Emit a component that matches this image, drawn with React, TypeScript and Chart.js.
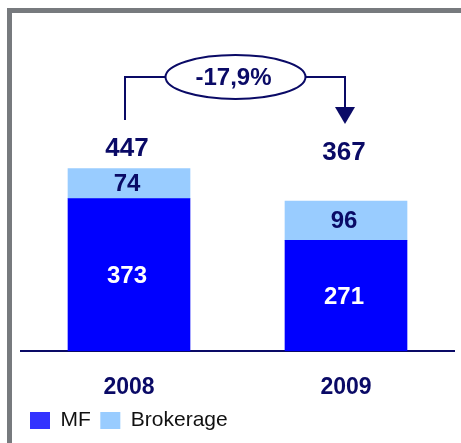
import React, { useEffect, useRef } from "react";
import { Chart, registerables } from "chart.js";

Chart.register(...registerables);

const categories = ["2008", "2009"];
const mfValues = [373, 271];
const brokerageValues = [74, 96];
const totals = [447, 367];
const changeLabel = "-17,9%";

const NAVY = "#0a0a66";
const FONT = "'Liberation Sans', Arial, sans-serif";

const framePlugin = {
  id: "frame",
  beforeDraw(chart: any) {
    const ctx = chart.ctx;
    ctx.save();
    ctx.fillStyle = "#ffffff";
    ctx.fillRect(0, 0, chart.width, chart.height);
    ctx.fillStyle = "#777a7e";
    ctx.fillRect(7, 8, 5, chart.height - 8);
    ctx.fillRect(7, 8, chart.width - 7, 5);
    ctx.restore();
  },
};

const labelPlugin = {
  id: "labels",
  afterDatasetsDraw(chart: any) {
    const ctx = chart.ctx;
    ctx.save();
    ctx.textAlign = "center";
    ctx.textBaseline = "middle";
    const mfMeta = chart.getDatasetMeta(0);
    const brMeta = chart.getDatasetMeta(1);
    ctx.font = `bold 24px ${FONT}`;
    mfMeta.data.forEach((bar: any, i: number) => {
      ctx.fillStyle = "#ffffff";
      ctx.fillText(String(mfValues[i]), bar.x - 2, (bar.y + bar.base) / 2 + 2);
    });
    brMeta.data.forEach((bar: any, i: number) => {
      ctx.fillStyle = NAVY;
      ctx.fillText(String(brokerageValues[i]), bar.x - 2, (bar.y + bar.base) / 2 + 1);
    });
    ctx.font = `bold 26px ${FONT}`;
    ctx.fillStyle = NAVY;
    const xs: number[] = [];
    brMeta.data.forEach((bar: any, i: number) => {
      xs.push(bar.x);
      const y = Math.min(bar.y - 20, 153);
      ctx.fillText(String(totals[i]), bar.x - 2, y);
    });

    // change arrow
    const x0 = xs[0] - 4;
    const x1 = xs[1] - 1;
    const cx = (xs[0] + xs[1]) / 2 - 2;
    const cy = 77;
    const rx = 70;
    const ry = 22;
    ctx.strokeStyle = NAVY;
    ctx.lineWidth = 2;
    ctx.beginPath();
    ctx.moveTo(x0, 120);
    ctx.lineTo(x0, 77);
    ctx.lineTo(cx - rx, 77);
    ctx.moveTo(cx + rx, 77);
    ctx.lineTo(x1, 77);
    ctx.lineTo(x1, 108);
    ctx.stroke();
    ctx.beginPath();
    ctx.ellipse(cx, cy, rx, ry, 0, 0, Math.PI * 2);
    ctx.fillStyle = "#ffffff";
    ctx.fill();
    ctx.stroke();
    ctx.fillStyle = NAVY;
    ctx.beginPath();
    ctx.moveTo(x1 - 10, 107);
    ctx.lineTo(x1 + 10, 107);
    ctx.lineTo(x1, 124);
    ctx.closePath();
    ctx.fill();
    ctx.font = `bold 24px ${FONT}`;
    ctx.fillText(changeLabel, cx - 2, cy + 1);
    ctx.restore();
  },
};

export default function App() {
  const ref = useRef<HTMLCanvasElement>(null);
  useEffect(() => {
    document.body.style.margin = "0";
    const chart = new Chart(ref.current!, {
      type: "bar",
      data: {
        labels: categories,
        datasets: [
          {
            label: "MF",
            data: mfValues,
            backgroundColor: "#0000ff",
            borderWidth: 0,
            barThickness: 122,
          },
          {
            label: "Brokerage",
            data: brokerageValues,
            backgroundColor: "#99ccff",
            borderWidth: 0,
            barThickness: 122,
          },
        ],
      },
      options: {
        responsive: false,
        animation: false,
        layout: { padding: { left: 20.5, right: 6.5, top: 24.4, bottom: 2 } },
        plugins: {
          tooltip: { enabled: false },
          legend: {
            position: "bottom",
            align: "start",
            labels: {
              boxWidth: 20,
              boxHeight: 17,
              padding: 9.5,
              color: "#111111",
              font: { family: FONT, size: 21 },
              generateLabels: (c: any) =>
                c.data.datasets.map((d: any, i: number) => ({
                  text: d.label,
                  fillStyle: i === 0 ? "#3333ff" : "#99ccff",
                  strokeStyle: "rgba(0,0,0,0)",
                  lineWidth: 0,
                  datasetIndex: i,
                  fontColor: "#111111",
                })),
            },
          },
        },
        scales: {
          x: {
            stacked: true,
            grid: { display: false },
            border: { display: true, color: NAVY, width: 2 },
            ticks: {
              color: NAVY,
              padding: 15,
              font: { family: FONT, size: 23, weight: "bold" },
            },
            afterFit: (scale: any) => {
              scale.height -= 16;
            },
          },
          y: {
            stacked: true,
            display: false,
            min: 0,
            max: 800,
          },
        },
      },
      plugins: [framePlugin, labelPlugin],
    });
    return () => chart.destroy();
  }, []);
  return <canvas ref={ref} width={461} height={443} style={{ display: "block" }} />;
}
